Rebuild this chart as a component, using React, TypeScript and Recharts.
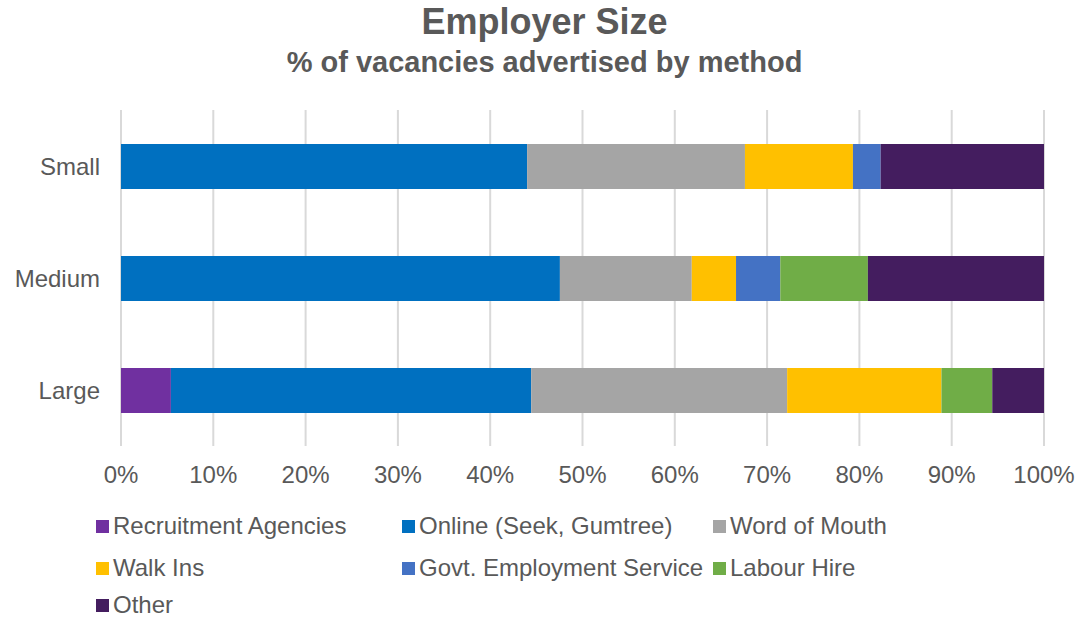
import { BarChart, Bar, XAxis, YAxis, CartesianGrid } from 'recharts';

const categories = ['Small', 'Medium', 'Large'];

const recruitmentAgencies = [0, 0, 5.4];
const online = [44.0, 47.6, 39.0];
const wordOfMouth = [23.6, 14.3, 27.7];
const walkIns = [11.7, 4.8, 16.7];
const govtService = [3.0, 4.8, 0];
const labourHire = [0, 9.5, 5.5];
const other = [17.7, 19.1, 5.6];

const xTicks = [0, 0.1, 0.2, 0.3, 0.4, 0.5, 0.6, 0.7, 0.8, 0.9, 1];

const SERIES = [
  { key: 'rec', name: 'Recruitment Agencies', values: recruitmentAgencies, color: '#7030A0' },
  { key: 'online', name: 'Online (Seek, Gumtree)', values: online, color: '#0070C0' },
  { key: 'wom', name: 'Word of Mouth', values: wordOfMouth, color: '#A5A5A5' },
  { key: 'walk', name: 'Walk Ins', values: walkIns, color: '#FFC000' },
  { key: 'govt', name: 'Govt. Employment Service', values: govtService, color: '#4472C4' },
  { key: 'labour', name: 'Labour Hire', values: labourHire, color: '#70AD47' },
  { key: 'other', name: 'Other', values: other, color: '#441D5F' },
];

const data = categories.map((cat, i) => {
  const row: Record<string, string | number> = { cat };
  SERIES.forEach((s) => {
    row[s.key] = s.values[i];
  });
  return row;
});

const TEXT = '#595959';
const FONT = '"Liberation Sans", Arial, sans-serif';

const legendCols = [96, 402, 713];
const legendRows = [526, 568, 605];

export default function App() {
  return (
    <div style={{ position: 'absolute', left: 0, top: 0, width: 1089, height: 620, background: '#fff', fontFamily: FONT, overflow: 'hidden' }}>
      <div style={{ position: 'absolute', top: 1, left: 0, width: 1089, textAlign: 'center', fontSize: 36, lineHeight: '42px', fontWeight: 'bold', color: TEXT }}>
        Employer Size
      </div>
      <div style={{ position: 'absolute', top: 45, left: 0, width: 1089, textAlign: 'center', fontSize: 29, lineHeight: '34px', fontWeight: 'bold', color: TEXT }}>
        % of vacancies advertised by method
      </div>
      <div style={{ position: 'absolute', left: 0, top: 0 }}>
        <BarChart
          width={1089}
          height={500}
          data={data}
          layout="vertical"
          stackOffset="expand"
          margin={{ top: 110, right: 45, left: 0, bottom: 0 }}
          barSize={45}
        >
          <CartesianGrid horizontal={false} stroke="#D9D9D9" strokeWidth={2} />
          <XAxis
            type="number"
            domain={[0, 1]}
            ticks={xTicks}
            tickFormatter={(v: number) => `${Math.round(v * 100)}%`}
            axisLine={false}
            tickLine={false}
            tickSize={0}
            tickMargin={20}
            height={54}
            tick={{ fill: TEXT, fontSize: 24, fontFamily: FONT }}
          />
          <YAxis
            type="category"
            dataKey="cat"
            width={121}
            axisLine={false}
            tickLine={false}
            tickSize={0}
            tickMargin={21}
            tick={{ fill: TEXT, fontSize: 24, fontFamily: FONT }}
          />
          {SERIES.map((s) => (
            <Bar key={s.key} dataKey={s.key} name={s.name} stackId="a" fill={s.color} isAnimationActive={false} />
          ))}
        </BarChart>
      </div>
      {SERIES.map((s, i) => (
        <div
          key={s.key}
          style={{
            position: 'absolute',
            left: legendCols[i % 3],
            top: legendRows[Math.floor(i / 3)] - 10,
            height: 20,
            lineHeight: '20px',
            display: 'flex',
            alignItems: 'center',
            fontSize: 24,
            color: TEXT,
            whiteSpace: 'nowrap',
          }}
        >
          <span style={{ display: 'inline-block', width: 13, height: 13, background: s.color, marginRight: 4 }} />
          {s.name}
        </div>
      ))}
    </div>
  );
}
